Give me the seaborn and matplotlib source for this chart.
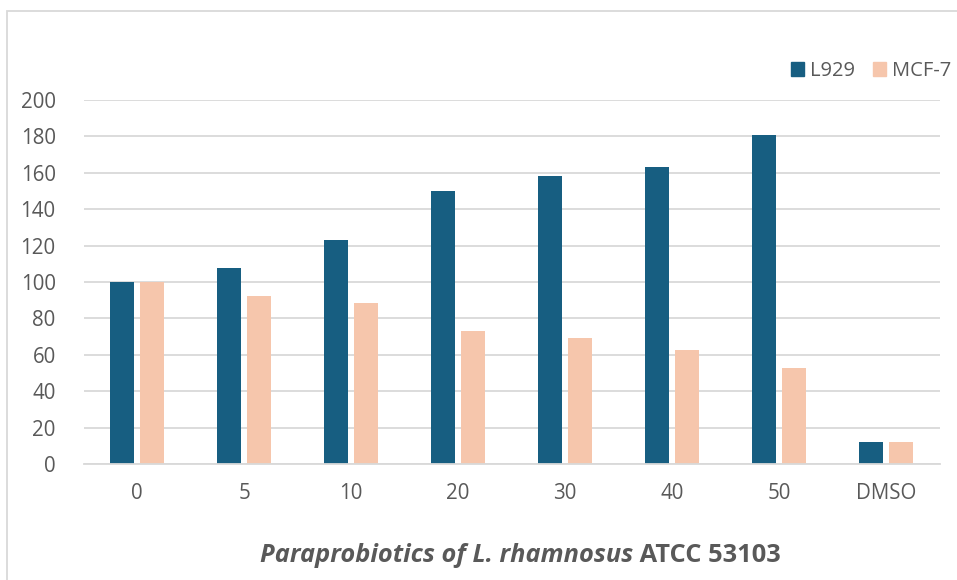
import matplotlib.pyplot as plt
import matplotlib.patches as mpatches
import pandas as pd
import seaborn as sns

concentrations = ["0", "5", "10", "20", "30", "40", "50", "DMSO"]
l929 = [100, 107.5, 123, 150, 158, 163, 181, 12]
mcf7 = [100, 92.5, 88.5, 73, 69, 62.5, 53, 12]
series = ["L929", "MCF-7"]
colors = ["#175E81", "#F6C6AC"]
title_italic = "Paraprobiotics of L. rhamnosus"
title_plain = " ATCC 53103"

df = pd.DataFrame({
    "conc": concentrations * 2,
    "value": l929 + mcf7,
    "cell": ["L929"] * len(l929) + ["MCF-7"] * len(mcf7),
})

sns.set_theme(style="white")
plt.rcParams["font.family"] = ["Open Sans", "DejaVu Sans"]

W, H = 957, 580
fig = plt.figure(figsize=(W / 100, H / 100), dpi=100)
ax = fig.add_axes([83.5 / W, 116 / H, 856 / W, 364 / H])

sns.barplot(data=df, x="conc", y="value", hue="cell", order=concentrations,
            hue_order=series, palette=colors, saturation=1, width=0.56,
            gap=0.2, linewidth=0, legend=False, ax=ax)

ax.set_ylim(0, 200)
ax.set_xlim(-0.5, len(concentrations) - 0.5)
ax.set_yticks(range(0, 201, 20))
ax.yaxis.grid(True, color="#D9D9D9", linewidth=1.3)
ax.set_axisbelow(True)
for side in ["top", "right", "left"]:
    ax.spines[side].set_visible(False)
ax.spines["bottom"].set_color("#D9D9D9")
ax.spines["bottom"].set_linewidth(1.3)
ax.tick_params(axis="both", length=0, labelsize=14.8, labelcolor="#595959")
ax.tick_params(axis="x", pad=14)
ax.tick_params(axis="y", pad=20)
ax.set_xlabel("")
ax.set_ylabel("")

# outer chart border (cropped on the right and bottom)
fig.patches.append(mpatches.Rectangle((7.5 / W, -0.1), 1.2, (H - 11) / H + 0.1,
                                      transform=fig.transFigure, fill=False,
                                      edgecolor="#D9D9D9", linewidth=1.3))

handles = [mpatches.Patch(color=c, label=s) for c, s in zip(colors, series)]
fig.legend(handles=handles, loc="center left", bbox_to_anchor=(791 / W, 1 - 71 / H),
           ncol=2, frameon=False, fontsize=14.5, handlelength=0.65, handleheight=0.65,
           handletextpad=0.3, columnspacing=0.9, borderpad=0, borderaxespad=0,
           labelcolor="#595959")

# title: italic part followed by upright bold part
fig.canvas.draw()
renderer = fig.canvas.get_renderer()
t1 = fig.text(0, 1 - 555 / H, title_italic, fontsize=18.3, fontweight="bold",
              style="italic", color="#595959", va="center")
t2 = fig.text(0, 1 - 555 / H, title_plain, fontsize=18.3, fontweight="bold",
              color="#595959", va="center")
w1 = t1.get_window_extent(renderer).width
w2 = t2.get_window_extent(renderer).width
x0 = (520 - (w1 + w2) / 2)
t1.set_x(x0 / W)
t2.set_x((x0 + w1) / W)

fig.savefig("out.png", dpi=100)
